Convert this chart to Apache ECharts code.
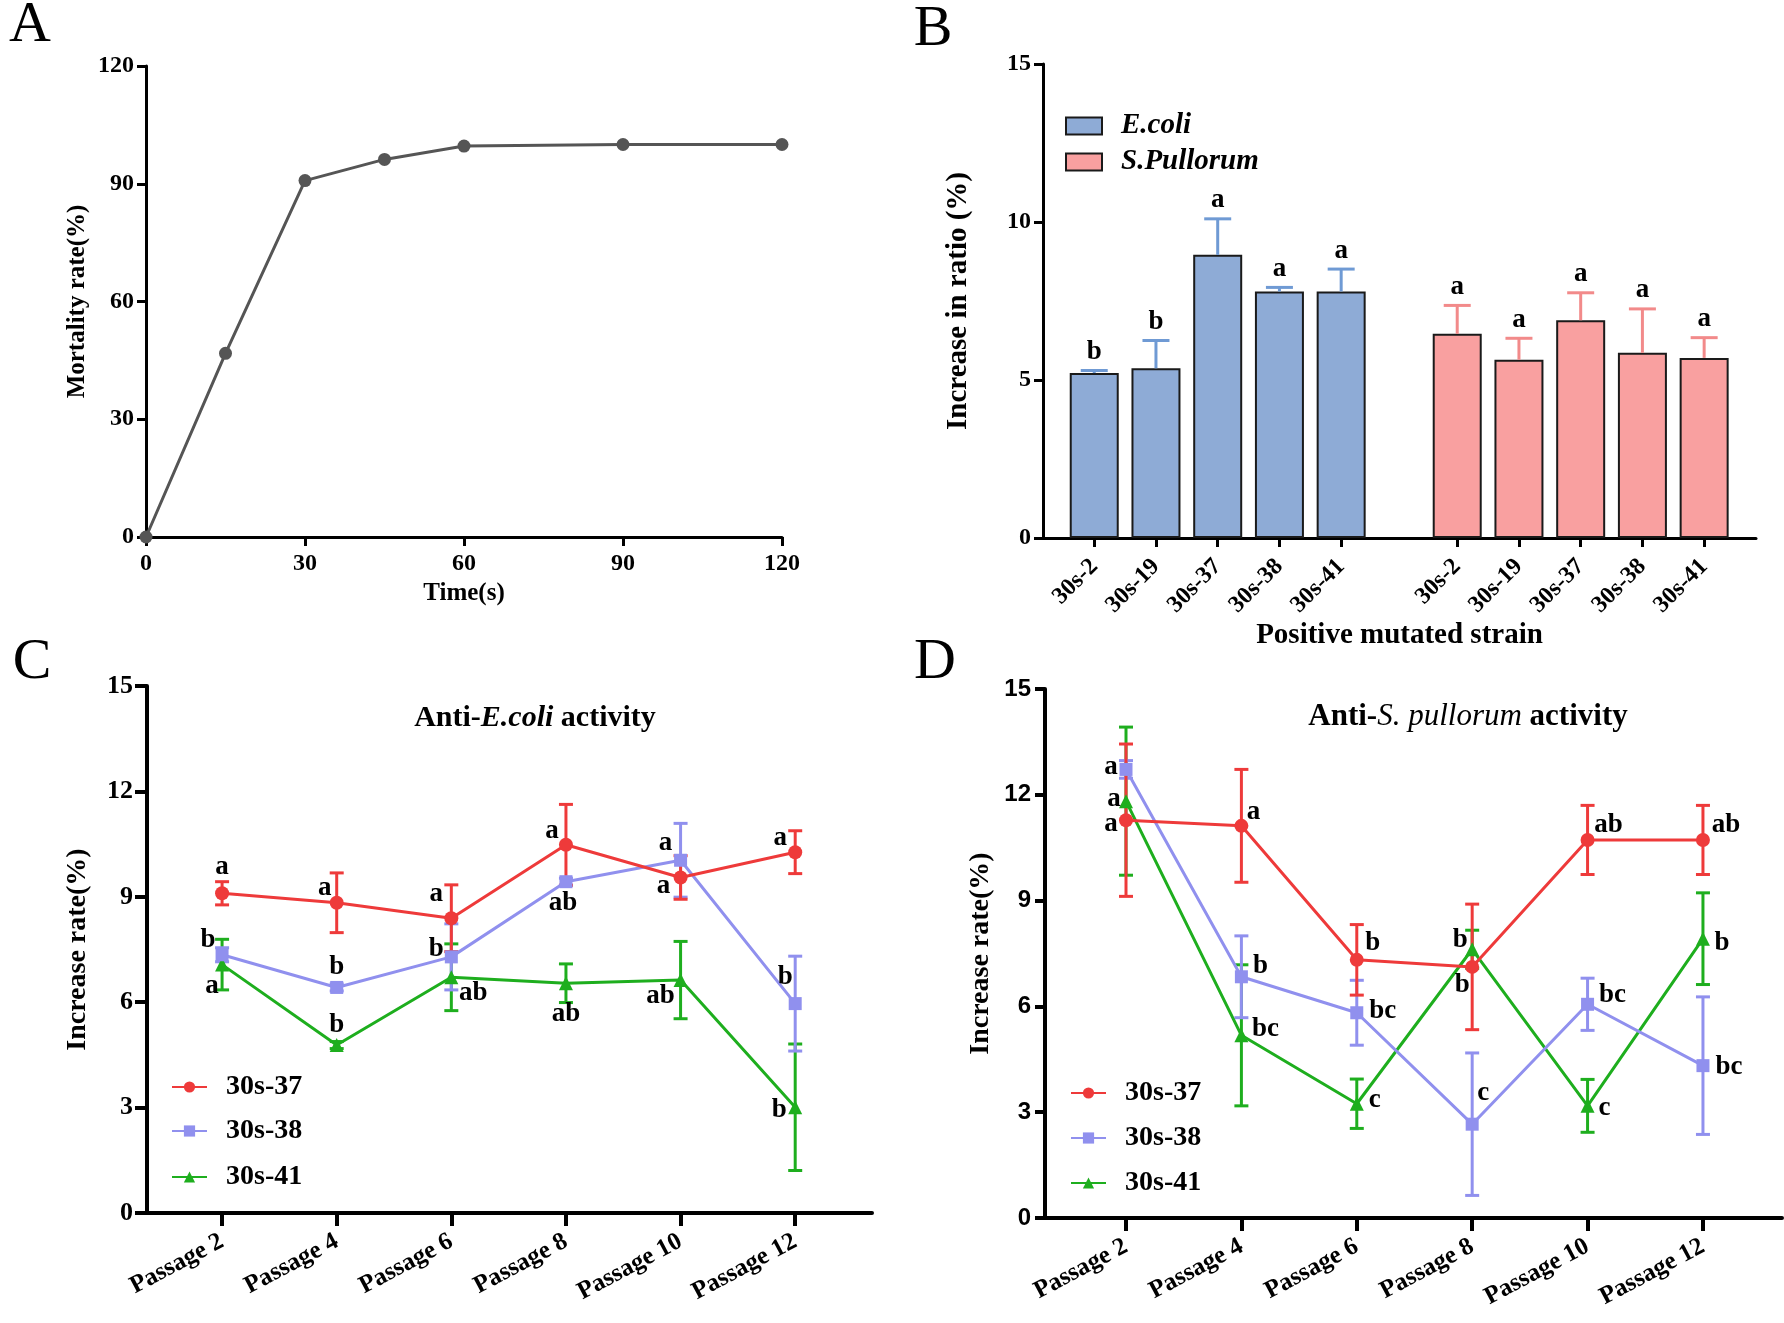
<!DOCTYPE html>
<html>
<head>
<meta charset="utf-8">
<script src="https://cdn.jsdelivr.net/npm/echarts@6/dist/echarts.min.js"></script>
<style>
html, body { margin: 0; padding: 0; background: #fff; }
#chart { width: 1784px; height: 1323px; }
</style>
</head>
<body>
<div id="chart"></div>
<script>
// panel A - mortality vs exposure time
const timeSec = [0, 15, 30, 45, 60, 90, 120];
const mortality = [0, 46.8, 90.8, 96.2, 99.6, 100, 100];

// panel B - increase in ratio per strain
const strains = ['30s-2', '30s-19', '30s-37', '30s-38', '30s-41'];
const ecoliMean = [5.22, 5.37, 8.96, 7.80, 7.80];
const ecoliErr = [0.08, 0.88, 1.14, 0.13, 0.71];
const ecoliLetters = ['b', 'b', 'a', 'a', 'a'];
const pullMean = [6.46, 5.64, 6.89, 5.86, 5.70];
const pullErr = [0.90, 0.68, 0.87, 1.39, 0.64];
const pullLetters = ['a', 'a', 'a', 'a', 'a'];

// panels C and D - passages
const passages = [2, 4, 6, 8, 10, 12];
const c37 = [9.10, 8.83, 8.39, 10.48, 9.55, 10.27];
const c37Err = [0.33, 0.85, 0.95, 1.15, 0.62, 0.61];
const c37Letters = ['a', 'a', 'a', 'a', 'a', 'a'];
const c38 = [7.35, 6.42, 7.29, 9.43, 10.04, 5.96];
const c38Err = [0.2, 0.1, 0.94, 0.1, 1.05, 1.35];
const c38Letters = ['b', 'b', 'b', 'ab', 'a', 'b'];
const c41 = [7.07, 4.78, 6.71, 6.54, 6.63, 3.01];
const c41Err = [0.72, 0.1, 0.95, 0.55, 1.1, 1.8];
const c41Letters = ['a', 'b', 'ab', 'ab', 'ab', 'b'];

const d37 = [11.28, 11.12, 7.32, 7.12, 10.72, 10.72];
const d37Err = [2.16, 1.6, 1.0, 1.78, 0.98, 0.98];
const d37Letters = ['a', 'a', 'b', 'b', 'ab', 'ab'];
const d38 = [12.72, 6.84, 5.82, 2.66, 6.06, 4.32];
const d38Err = [0.25, 1.16, 0.92, 2.02, 0.74, 1.95];
const d38Letters = ['a', 'b', 'bc', 'c', 'bc', 'bc'];
const d41 = [11.82, 5.18, 3.24, 7.62, 3.18, 7.92];
const d41Err = [2.1, 2.0, 0.7, 0.54, 0.75, 1.3];
const d41Letters = ['a', 'bc', 'c', 'b', 'c', 'b'];

// letter label offsets (px from point)
const c37Off = [[0, -26], [-12, -15], [-15, -24], [-14, -14], [-17, 9], [-15, -14]];
const c38Off = [[-14, -15], [0, -20], [-15, -8], [-3, 21], [-15, -17], [-10, -27]];
const c41Off = [[-10, 21], [0, -20], [22, 16], [0, 31], [-20, 16], [-16, 3]];
const d37Off = [[-15, 4], [12, -14], [16, -17], [-10, 18], [21, -15], [23, -15]];
const d38Off = [[-15, -2], [19, -11], [26, -2], [11, -31], [25, -9], [26, 1]];
const d41Off = [[-12, -2], [24, -6], [18, -4], [-12, -9], [17, 2], [19, 4]];

const FONT = '"Liberation Serif", "Times New Roman", serif';
const SANS = '"Liberation Sans", Arial, sans-serif';
const RED = '#ee3a3a', BLUE = '#9090ee', GREEN = '#1eae1e';

const ecoliPos = strains.map((s, i) => i + 1);
const pullPos = strains.map((s, i) => i + 6.88);
const barTicks = ecoliPos.concat(pullPos);

function axisBase(width, tickLen, labelSize, margin) {
    return {
        axisLine: { onZero: false, lineStyle: { color: '#000', width: width } },
        axisTick: { show: true, inside: false, length: tickLen, lineStyle: { color: '#000', width: width } },
        axisLabel: { color: '#000', fontFamily: FONT, fontWeight: 'bold', fontSize: labelSize, margin: margin },
        splitLine: { show: false }
    };
}

function nameStyle(size) {
    return { color: '#000', fontFamily: FONT, fontWeight: 'bold', fontSize: size };
}

function errBars(xi, yi, xs, mean, err, color, capW, lw, upperOnly, letters) {
    return {
        type: 'custom', xAxisIndex: xi, yAxisIndex: yi, silent: true, z: 3,
        data: xs.map((x, i) => [x, upperOnly ? mean[i] : mean[i] - err[i], mean[i] + err[i]]),
        encode: { x: 0, y: [1, 2] },
        renderItem: function (params, api) {
            const x = api.value(0);
            const lo = api.coord([x, api.value(1)]);
            const hi = api.coord([x, api.value(2)]);
            const st = { stroke: color, lineWidth: lw };
            const children = [
                { type: 'line', shape: { x1: lo[0], y1: lo[1], x2: hi[0], y2: hi[1] }, style: st },
                { type: 'line', shape: { x1: hi[0] - capW / 2, y1: hi[1], x2: hi[0] + capW / 2, y2: hi[1] }, style: st }
            ];
            if (!upperOnly) {
                children.push({ type: 'line', shape: { x1: lo[0] - capW / 2, y1: lo[1], x2: lo[0] + capW / 2, y2: lo[1] }, style: st });
            }
            if (letters) {
                children.push({
                    type: 'text', x: hi[0], y: hi[1] - 5,
                    style: { text: letters[params.dataIndex], align: 'center', verticalAlign: 'bottom',
                        font: 'bold 27px ' + FONT, fill: '#000' }
                });
            }
            return { type: 'group', children: children };
        }
    };
}

function passLine(name, xi, vals, letters, offs, color, symbol, size) {
    return {
        type: 'line', name: name, xAxisIndex: xi, yAxisIndex: xi, z: 4,
        symbol: symbol, symbolSize: size,
        itemStyle: { color: color },
        lineStyle: { color: color, width: 3 },
        data: passages.map((p, i) => ({
            value: [p, vals[i]],
            label: { show: true, formatter: letters[i], position: 'inside', offset: offs[i] }
        })),
        label: { color: '#000', fontFamily: FONT, fontWeight: 'bold', fontSize: 27 }
    };
}

function oneLegend(name, left, cy, w, h, icon, italic, size) {
    const lg = {
        data: [name], left: left, top: cy - 16, orient: 'vertical', padding: 0,
        itemWidth: w, itemHeight: h, selectedMode: false,
        textStyle: { color: '#000', fontFamily: FONT, fontWeight: 'bold', fontSize: size,
            fontStyle: italic ? 'italic' : 'normal', lineHeight: 32, padding: [0, 0, 0, 14] }
    };
    if (icon) lg.icon = icon;
    return lg;
}

function passageAxis(gridIndex, min, max) {
    const ax = axisBase(4, 13, 25, 27);
    ax.axisTick.customValues = passages;
    ax.axisLabel.customValues = passages;
    ax.axisLabel.rotate = 28;
    ax.axisLabel.formatter = v => 'Passage ' + v;
    return Object.assign(ax, { gridIndex: gridIndex, type: 'value', min: min, max: max });
}

const chart = echarts.init(document.getElementById('chart'));

const option = {
    animation: false,
    backgroundColor: '#fff',
    grid: [
        { left: 146, top: 66, width: 636, height: 471 },
        { left: 1043, top: 64, width: 713, height: 474 },
        { left: 147, top: 686, width: 725, height: 527 },
        { left: 1045, top: 689, width: 737, height: 529 }
    ],
    xAxis: [
        Object.assign(axisBase(3, 9, 24, 15), {
            gridIndex: 0, type: 'value', min: 0, max: 120, interval: 30,
            name: 'Time(s)', nameLocation: 'middle', nameGap: 44, nameTextStyle: nameStyle(25)
        }),
        (function () {
            const ax = axisBase(3, 9, 24, 25);
            ax.axisTick.customValues = barTicks;
            ax.axisLabel.customValues = barTicks;
            ax.axisLabel.rotate = 45;
            ax.axisLabel.formatter = function (v) {
                const idx = barTicks.findIndex(t => Math.abs(t - v) < 1e-6);
                return idx < 0 ? '' : strains[idx % strains.length];
            };
            return Object.assign(ax, {
                gridIndex: 1, type: 'value', min: 0.17, max: 11.72,
                name: 'Positive mutated strain', nameLocation: 'middle', nameGap: 82, nameTextStyle: nameStyle(29)
            });
        })(),
        passageAxis(2, 0.69, 13.34),
        passageAxis(3, 0.596, 13.37)
    ],
    yAxis: [
        Object.assign(axisBase(3, 9, 24, 12), {
            gridIndex: 0, type: 'value', min: 0, max: 120, interval: 30,
            name: 'Mortality rate(%)', nameLocation: 'middle', nameGap: 56, nameTextStyle: nameStyle(25)
        }),
        Object.assign(axisBase(3, 9, 24, 12), {
            gridIndex: 1, type: 'value', min: 0, max: 15, interval: 5,
            name: 'Increase in ratio (%)', nameLocation: 'middle', nameGap: 70, nameTextStyle: nameStyle(29)
        }),
        Object.assign(axisBase(4, 12, 26, 14), {
            gridIndex: 2, type: 'value', min: 0, max: 15, interval: 3,
            name: 'Increase rate(%)', nameLocation: 'middle', nameGap: 55, nameTextStyle: nameStyle(28)
        }),
        (function () {
            const ax = axisBase(4, 10, 24, 14);
            ax.axisLabel.fontFamily = SANS;
            return Object.assign(ax, {
                gridIndex: 3, type: 'value', min: 0, max: 15, interval: 3,
                name: 'Increase rate(%)', nameLocation: 'middle', nameGap: 50, nameTextStyle: nameStyle(28)
            });
        })()
    ],
    legend: [
        oneLegend('E.coli', 1065, 126, 36, 17, 'rect', true, 29),
        oneLegend('S.Pullorum', 1065, 162, 36, 17, 'rect', true, 29),
        oneLegend('30s-37', 171, 1087, 35, 14, null, false, 28),
        oneLegend('30s-38', 171, 1131, 35, 14, null, false, 28),
        oneLegend('30s-41', 171, 1177, 35, 14, null, false, 28),
        oneLegend('30s-37', 1070, 1093, 35, 14, null, false, 28),
        oneLegend('30s-38', 1070, 1138, 35, 14, null, false, 28),
        oneLegend('30s-41', 1070, 1183, 35, 14, null, false, 28)
    ],
    graphic: [
        { type: 'text', x: 30, y: 26, style: { text: 'A', font: '58px ' + FONT, align: 'center', verticalAlign: 'middle', fill: '#000' } },
        { type: 'text', x: 933, y: 30, style: { text: 'B', font: '58px ' + FONT, align: 'center', verticalAlign: 'middle', fill: '#000' } },
        { type: 'text', x: 32, y: 663, style: { text: 'C', font: '58px ' + FONT, align: 'center', verticalAlign: 'middle', fill: '#000' } },
        { type: 'text', x: 935, y: 663, style: { text: 'D', font: '58px ' + FONT, align: 'center', verticalAlign: 'middle', fill: '#000' } },
        {
            type: 'text', x: 535, y: 718,
            style: {
                text: '{n|Anti-}{i|E.coli}{n| activity}', align: 'center', verticalAlign: 'middle',
                rich: {
                    n: { fontFamily: FONT, fontWeight: 'bold', fontSize: 30, fill: '#000' },
                    i: { fontFamily: FONT, fontWeight: 'bold', fontStyle: 'italic', fontSize: 30, fill: '#000' }
                }
            }
        },
        {
            type: 'text', x: 1468, y: 717,
            style: {
                text: '{n|Anti-}{i|S. pullorum}{n| activity}', align: 'center', verticalAlign: 'middle',
                rich: {
                    n: { fontFamily: FONT, fontWeight: 'bold', fontSize: 31, fill: '#000' },
                    i: { fontFamily: FONT, fontStyle: 'italic', fontSize: 31, fill: '#000' }
                }
            }
        }
    ],
    series: [
        {
            type: 'line', xAxisIndex: 0, yAxisIndex: 0,
            data: timeSec.map((t, i) => [t, mortality[i]]),
            symbol: 'circle', symbolSize: 13,
            itemStyle: { color: '#555' }, lineStyle: { color: '#555', width: 3 }
        },
        {
            type: 'bar', name: 'E.coli', xAxisIndex: 1, yAxisIndex: 1,
            data: ecoliPos.map((x, i) => [x, ecoliMean[i]]),
            barWidth: 49, barGap: '-100%',
            itemStyle: { color: '#8eabd6', borderColor: '#1a1a1a', borderWidth: 2 }
        },
        {
            type: 'bar', name: 'S.Pullorum', xAxisIndex: 1, yAxisIndex: 1,
            data: pullPos.map((x, i) => [x, pullMean[i]]),
            barWidth: 49, barGap: '-100%',
            itemStyle: { color: '#f9a0a0', borderColor: '#1a1a1a', borderWidth: 2 }
        },
        errBars(1, 1, ecoliPos, ecoliMean, ecoliErr, '#6f9ad4', 27, 3, true, ecoliLetters),
        errBars(1, 1, pullPos, pullMean, pullErr, '#f28a8a', 27, 3, true, pullLetters),

        errBars(2, 2, passages, c41, c41Err, GREEN, 14, 3, false),
        errBars(2, 2, passages, c38, c38Err, BLUE, 14, 3, false),
        errBars(2, 2, passages, c37, c37Err, RED, 14, 3, false),
        passLine('30s-41', 2, c41, c41Letters, c41Off, GREEN, 'triangle', 14),
        passLine('30s-38', 2, c38, c38Letters, c38Off, BLUE, 'rect', 13),
        passLine('30s-37', 2, c37, c37Letters, c37Off, RED, 'circle', 14),

        errBars(3, 3, passages, d41, d41Err, GREEN, 14, 3, false),
        errBars(3, 3, passages, d38, d38Err, BLUE, 14, 3, false),
        errBars(3, 3, passages, d37, d37Err, RED, 14, 3, false),
        passLine('30s-41', 3, d41, d41Letters, d41Off, GREEN, 'triangle', 14),
        passLine('30s-38', 3, d38, d38Letters, d38Off, BLUE, 'rect', 13),
        passLine('30s-37', 3, d37, d37Letters, d37Off, RED, 'circle', 14)
    ]
};

chart.setOption(option);
</script>
</body>
</html>
